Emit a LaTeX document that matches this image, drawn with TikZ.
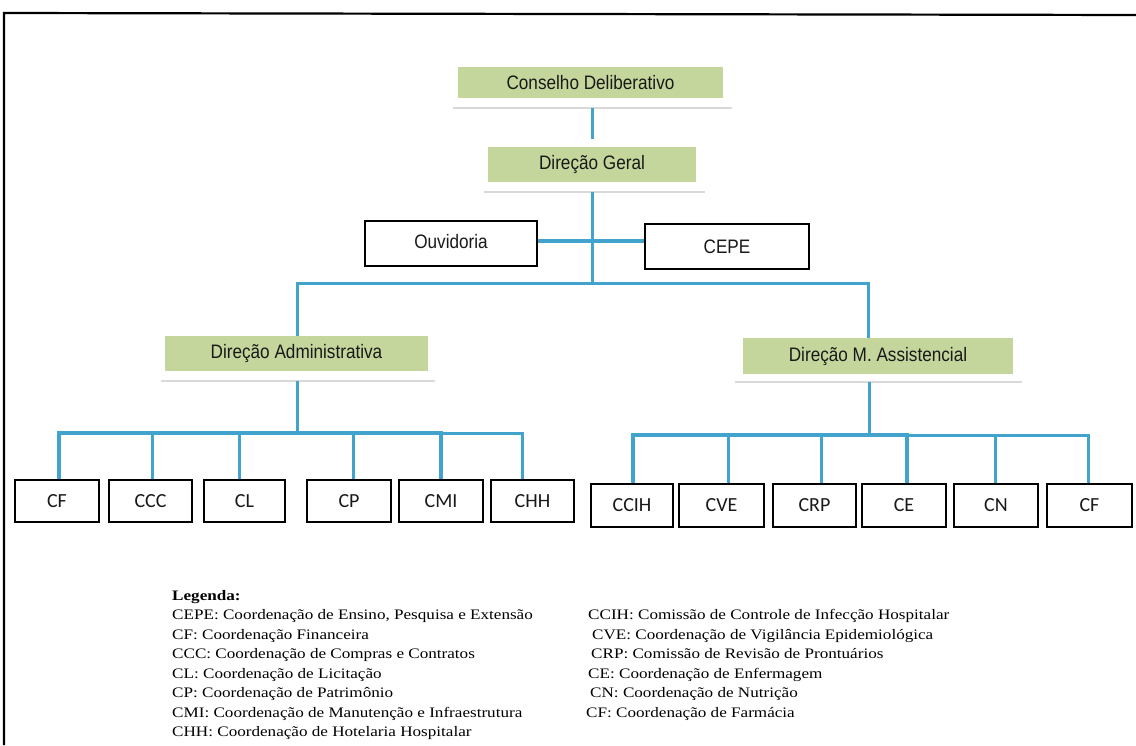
\documentclass[tikz,border=0pt]{standalone}
\usepackage{fontspec}
\setmainfont{Liberation Serif}
\newfontfamily\boxfont[FakeStretch=0.88]{Liberation Sans}
\newfontfamily\kidfont{Carlito}
\newfontfamily\legfont[FakeStretch=1.18]{Liberation Serif}
\definecolor{boxgreen}{RGB}{196,214,156}
\definecolor{connblue}{RGB}{66,164,204}
\definecolor{txt}{RGB}{25,25,25}
\tikzset{
  greenbox/.style={rectangle, fill=boxgreen, inner sep=0pt, text=txt,
    font=\boxfont\fontsize{19.5}{22}\selectfont},
  whitebox/.style={rectangle, draw=black, line width=1.8pt, fill=white, inner sep=0pt,
    text=txt, font=\boxfont\fontsize{19.5}{22}\selectfont},
  kidbox/.style={rectangle, draw=black, line width=1.8pt, fill=white, inner sep=0pt,
    text=txt, font=\kidfont\fontsize{20}{22}\selectfont},
  conn/.style={draw=connblue, line width=3pt},
  shadowline/.style={draw=gray!30, line width=1.5pt},
  legline/.style={anchor=base west, inner sep=0pt, text=black,
    font=\legfont\fontsize{14.5}{16}\selectfont},
  frameline/.style={draw=black, line width=2.2pt}
}
\begin{document}
\begin{tikzpicture}[x=1pt,y=-1pt]
\useasboundingbox (0,0) rectangle (1136,745);
\fill[white] (0,0) rectangle (1136,745);
% outer frame (top and left edges visible)
\coordinate (fa) at (4,745);
\coordinate (fb) at (4,13);
\coordinate (fc) at (1140,15);
\draw[frameline] (fa) -- (fb) -- (fc);

% junction coordinates
\coordinate (hub) at (592,283);
\coordinate (oc) at (592,241);
\coordinate (la) at (297,433);
\coordinate (ra) at (869,435);

% top nodes
\node[greenbox, minimum width=265pt, minimum height=31pt] (cd) at (590.5,82.5) {Conselho Deliberativo};
\node[greenbox, minimum width=208pt, minimum height=35pt] (dg) at (592,164.5) {Direção Geral};
\node[whitebox, minimum width=172pt, minimum height=45pt] (ouv) at (451,243.5) {\raisebox{4pt}{Ouvidoria}};
\node[whitebox, minimum width=164pt, minimum height=45pt] (cepe) at (727,246.5) {CEPE};
\node[greenbox, minimum width=263pt, minimum height=35pt] (da) at (296.5,353.5) {Direção Administrativa};
\node[greenbox, minimum width=270pt, minimum height=36pt] (dm) at (878,356) {Direção M. Assistencial};

% shadow lines under the green boxes
\draw[shadowline] ([xshift=-5pt,yshift=-10pt]cd.south west) -- ([xshift=9pt,yshift=-10pt]cd.south east);
\draw[shadowline] ([xshift=-4pt,yshift=-10pt]dg.south west) -- ([xshift=9pt,yshift=-10pt]dg.south east);
\draw[shadowline] ([xshift=-4pt,yshift=-10pt]da.south west) -- ([xshift=7pt,yshift=-10pt]da.south east);
\draw[shadowline] ([xshift=-8pt,yshift=-8pt]dm.south west) -- ([xshift=9pt,yshift=-8pt]dm.south east);

% upper connectors
\draw[conn] ([xshift=1.5pt,yshift=-10pt]cd.south) -- ([yshift=8pt]dg.north);
\draw[conn] ([yshift=-10pt]dg.south) -- (hub);
\draw[conn] ([xshift=0.5pt]da.north) |- (hub) -| ([xshift=-10pt]dm.north);
\draw[conn] ([xshift=0.5pt,yshift=-10pt]da.south) -- (la);
\draw[conn] ([xshift=-9pt,yshift=-8pt]dm.south) -- (ra);
\draw[conn, line width=4pt] (ouv.east |- oc) -- (cepe.west |- oc);

% left children
\node[kidbox, minimum width=84pt, minimum height=42pt] (cf1) at (57,501) {CF};
\node[kidbox, minimum width=83pt, minimum height=42pt] (ccc) at (150.5,501) {CCC};
\node[kidbox, minimum width=81pt, minimum height=42pt] (cl) at (244.5,501) {CL};
\node[kidbox, minimum width=84pt, minimum height=42pt] (cp) at (349,501) {CP};
\node[kidbox, minimum width=84pt, minimum height=42pt] (cmi) at (441,501) {CMI};
\node[kidbox, minimum width=83pt, minimum height=42pt] (chh) at (532.5,501) {CHH};
% right children
\node[kidbox, minimum width=82pt, minimum height=43pt] (ccih) at (632,505.5) {CCIH};
\node[kidbox, minimum width=85pt, minimum height=43pt] (cve) at (721.5,505.5) {CVE};
\node[kidbox, minimum width=83pt, minimum height=43pt] (crp) at (814.5,505.5) {CRP};
\node[kidbox, minimum width=84pt, minimum height=43pt] (ce) at (904,505.5) {CE};
\node[kidbox, minimum width=84pt, minimum height=43pt] (cn) at (996,505.5) {CN};
\node[kidbox, minimum width=85pt, minimum height=43pt] (cf2) at (1089.5,505.5) {CF};

% children connectors
\draw[conn, line width=4pt] ([xshift=2pt]cf1.north) |- (la);
\draw[conn] ([xshift=2pt]ccc.north) |- (la);
\draw[conn] ([xshift=-5pt]cl.north) |- (la);
\draw[conn] ([xshift=4pt]cp.north) |- (la);
\draw[conn, line width=3.6pt] (cmi.north) |- (la);
\draw[conn] ([xshift=-10pt]chh.north) |- (la);
\draw[conn, line width=4pt] ([xshift=1pt]ccih.north) |- (ra);
\draw[conn] ([xshift=7pt]cve.north) |- (ra);
\draw[conn] ([xshift=7pt]crp.north) |- (ra);
\draw[conn, line width=3.6pt] ([xshift=3pt]ce.north) |- (ra);
\draw[conn] ([xshift=-1pt]cn.north) |- (ra);
\draw[conn] ([xshift=-1pt]cf2.north) |- (ra);

% legend
\node[legline] (l0) at (172,600) {\textbf{Legenda:}};
\node[legline] (l1) at (172,619) {CEPE: Coordenação de Ensino, Pesquisa e Extensão};
\node[legline] (l2) at (172,639) {CF: Coordenação Financeira};
\node[legline] (l3) at (172,658) {CCC: Coordenação de Compras e Contratos};
\node[legline] (l4) at (172,678) {CL: Coordenação de Licitação};
\node[legline] (l5) at (172,697) {CP: Coordenação de Patrimônio};
\node[legline] (l6) at (172,717) {CMI: Coordenação de Manutenção e Infraestrutura};
\node[legline] (l7) at (172,736) {CHH: Coordenação de Hotelaria Hospitalar};
\node[legline] (r1) at (588,619) {CCIH: Comissão de Controle de Infecção Hospitalar};
\node[legline] (r2) at (592,639) {CVE: Coordenação de Vigilância Epidemiológica};
\node[legline] (r3) at (591,658) {CRP: Comissão de Revisão de Prontuários};
\node[legline] (r4) at (588,678) {CE: Coordenação de Enfermagem};
\node[legline] (r5) at (590,697) {CN: Coordenação de Nutrição};
\node[legline] (r6) at (586,717) {CF: Coordenação de Farmácia};
\end{tikzpicture}
\end{document}
